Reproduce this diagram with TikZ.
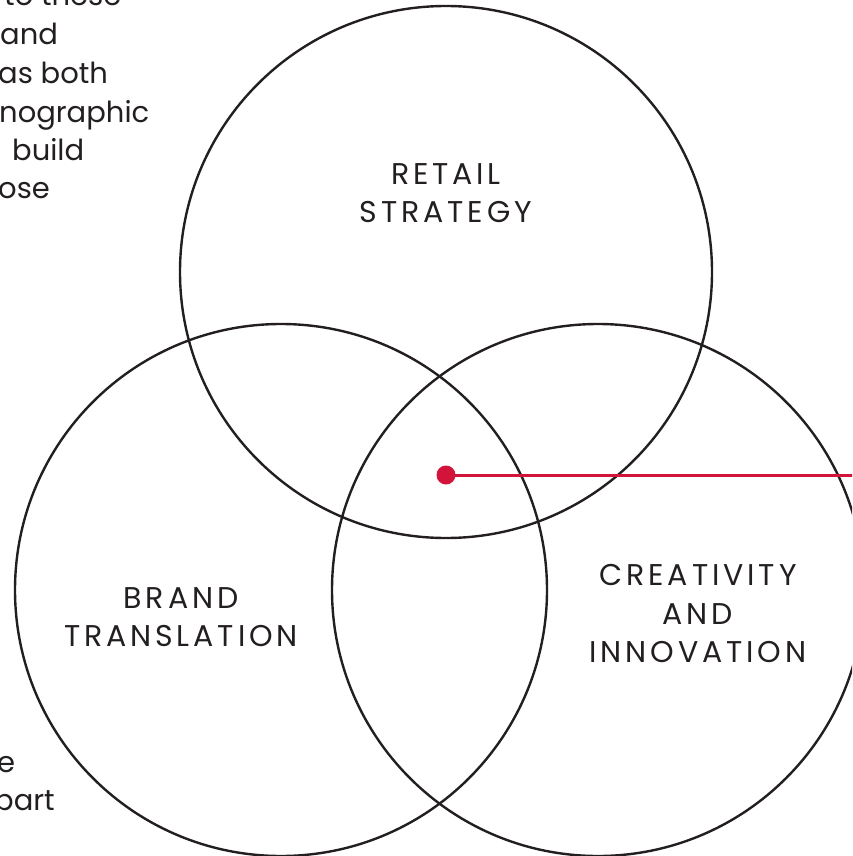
\documentclass[tikz,border=0pt]{standalone}
\usepackage{fontspec}
\setmainfont{Poppins}
\newfontfamily\spaced{Poppins}[LetterSpace=13]
\definecolor{ink}{HTML}{231F20}
\definecolor{accent}{HTML}{D2143A}
\begin{document}
\begin{tikzpicture}[x=1pt,y=-1pt,
  ring/.style={draw=ink,line width=2.4pt},
  label/.style={text=ink,font=\spaced\fontsize{30}{38.5}\selectfont,align=center,inner sep=0pt},
  body/.style={text=ink,font=\fontsize{29}{38.5}\selectfont,anchor=base west,inner sep=0pt}]
  \useasboundingbox (0,0) rectangle (852,856);
  \clip (0,0) rectangle (852,856);
  % three overlapping circles
  \draw[ring] (446,272) circle (266);
  \draw[ring] (281,590) circle (266);
  \draw[ring] (598,590) circle (266);
  % circle titles
  \node[label] (retail) at (446,193) {RETAIL\\STRATEGY};
  \node[label] (brand) at (181,617) {BRAND\\TRANSLATION};
  \node[label] (creative) at (698,614) {CREATIVITY\\AND\\INNOVATION};
  % marker in the shared centre with its leader line
  \fill[accent] (446,475) circle (9.5);
  \coordinate (dot) at (446,475);
  \coordinate (edge) at (860,475);
  \draw[accent,line width=3pt] (dot) -- (edge);
  % running text at the left margin
  \node[body] (t1) at (4,6) {to these};
  \node[body] (t2) at (0,45) {and};
  \node[body] (t3) at (-2,84) {as both};
  \node[body] (t4) at (-1,122) {nographic};
  \node[body] (t5) at (12,160) {build};
  \node[body] (t6) at (-2,198) {ose};
  \node[body] (t7) at (-3,772) {e};
  \node[body] (t8) at (-6,810) {part};
\end{tikzpicture}
\end{document}
